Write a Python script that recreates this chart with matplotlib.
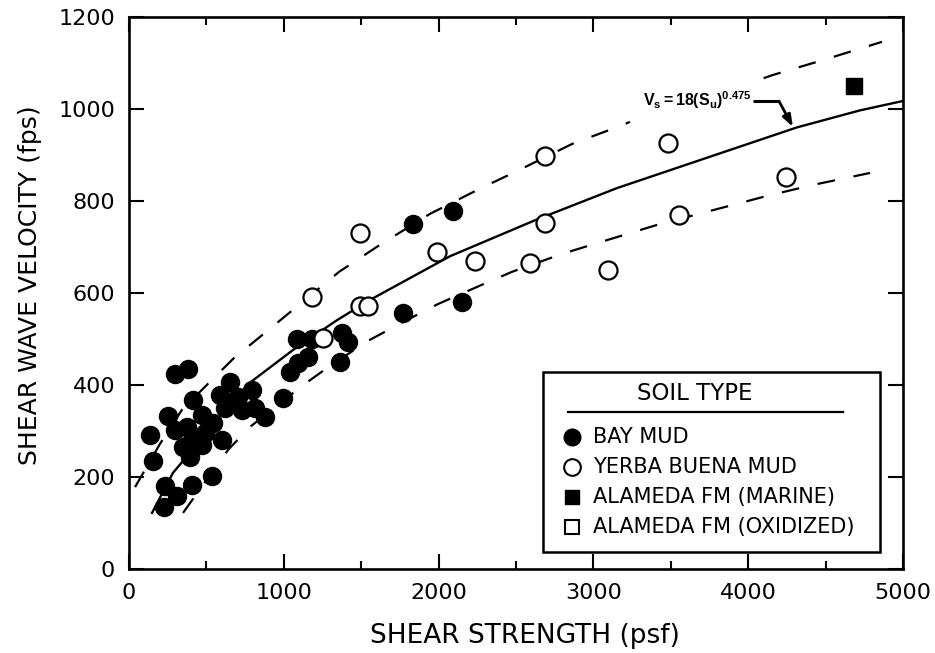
import matplotlib
matplotlib.use("Agg")
import matplotlib.pyplot as plt
from matplotlib.patches import Rectangle
from matplotlib.lines import Line2D

# ---------------- data ----------------
bay_su = [297, 383, 136, 157, 233, 228, 308, 405, 538, 254, 416, 297, 372, 469,
          545, 491, 405, 351, 394, 469, 599, 652, 588, 620, 706, 793, 728, 814,
          879, 997, 1040, 1094, 1156, 1083, 1180, 1376, 1415, 1363, 1770, 2151,
          1835, 2093]
bay_vs = [425, 434, 291, 235, 180, 135, 159, 183, 203, 333, 367, 302, 309, 335,
          317, 295, 280, 266, 244, 270, 280, 407, 378, 349, 375, 389, 346, 349,
          331, 371, 429, 447, 461, 501, 501, 513, 493, 451, 557, 580,
          750, 778]

yb_su = [1182, 1253, 1492, 1492, 1544, 1990, 2235, 2590, 2687, 2687, 3094, 3482,
         3553, 4244]
yb_vs = [591, 502, 730, 572, 572, 689, 670, 665, 752, 898, 650, 926,
         770, 852]

marine_su = [4683]
marine_vs = [1050]

oxid_su = []
oxid_vs = []

# fitted curve Vs = 18(Su)^0.475 as drawn
fit_su = [149, 284, 769, 1059, 1344, 1557, 2074, 2636, 3152, 3689, 4315, 4722, 4994]
fit_vs = [122, 209, 402, 476, 541, 585, 680, 760, 828, 889, 960, 997, 1017]

# upper dashed bound (interrupted where the equation label sits)
up_su_a = [39, 200, 342, 523, 685, 782, 924, 1357, 1609, 1944, 2274, 2506, 2862,
           3172, 3236]
up_vs_a = [178, 272, 346, 407, 461, 487, 526, 646, 702, 772, 828, 865, 924,
           963, 972]
up_su_b = [4100, 4160, 4509, 4864]
up_vs_b = [1067, 1074, 1109, 1146]

# lower dashed bound
lo_su = [349, 640, 782, 1118, 1279, 1544, 1783, 1996, 2274, 2474, 2797, 3088,
         3411, 4121, 4419, 4787]
lo_vs = [122, 259, 309, 398, 437, 496, 539, 576, 617, 646, 685, 715,
         748, 811, 835, 861]

# equation label arrow path
arrow_su = [4031, 4199, 4289]
arrow_vs = [1017, 1017, 961]

x_ticks = [0, 1000, 2000, 3000, 4000, 5000]
y_ticks = [0, 200, 400, 600, 800, 1000, 1200]
legend_labels = ["BAY MUD", "YERBA BUENA MUD", "ALAMEDA FM (MARINE)",
                 "ALAMEDA FM (OXIDIZED)"]

# ---------------- figure ----------------
plt.rcParams['font.family'] = ['DejaVu Sans']
plt.rcParams['mathtext.fontset'] = 'custom'
plt.rcParams['mathtext.rm'] = 'Liberation Sans'
plt.rcParams['mathtext.bf'] = 'Liberation Sans:bold'
plt.rcParams['mathtext.it'] = 'Liberation Sans:italic'

fig = plt.figure(figsize=(9.35, 6.53), dpi=100)
ax = fig.add_axes([129/935, 1 - 569/653, (903-129)/935, (569-17)/653])

ax.set_xlim(0, 5000)
ax.set_ylim(0, 1200)

lw_d = 1.6
for xs, ys in [(up_su_a, up_vs_a), (up_su_b, up_vs_b), (lo_su, lo_vs)]:
    ax.plot(xs, ys, color='black', lw=lw_d, dashes=(8.0, 8.5), zorder=2)
ax.plot(fit_su, fit_vs, color='black', lw=1.7, zorder=2)

ms = 13
ax.plot(bay_su, bay_vs, 'o', ms=ms, mfc='black', mec='black', mew=1.0,
        ls='none', zorder=3)
ax.plot(yb_su, yb_vs, 'o', ms=ms, mfc='white', mec='black', mew=1.6,
        ls='none', zorder=4)
ax.plot(marine_su, marine_vs, 's', ms=11, mfc='black', mec='black', mew=1.0,
        ls='none', zorder=3)
ax.plot(oxid_su, oxid_vs, 's', ms=11, mfc='white', mec='black', mew=1.5,
        ls='none', zorder=3)

# equation label with bent arrow
ax.text(3320, 1020, r'$\mathbf{V_s = 18(S_u)^{0.475}}$', fontsize=11.5,
        ha='left', va='center', zorder=5)
ax.plot(arrow_su[:2], arrow_vs[:2], color='black', lw=2.2, solid_capstyle='butt')
ax.annotate('', xy=(arrow_su[2], arrow_vs[2]), xytext=(arrow_su[1], arrow_vs[1]),
            arrowprops=dict(arrowstyle='-|>,head_length=0.7,head_width=0.25',
                            color='black', lw=2.0, shrinkA=0, shrinkB=0))

# ticks
ax.set_xticks(x_ticks)
ax.set_xticks([500, 1500, 2500, 3500, 4500], minor=True)
ax.set_yticks(y_ticks)
ax.tick_params(which='both', direction='in', top=True, right=True,
               width=1.5, color='black')
ax.tick_params(which='major', length=11, labelsize=16, pad=10)
ax.tick_params(which='minor', length=6)
for s in ax.spines.values():
    s.set_linewidth(1.9)

ax.set_xlabel('SHEAR STRENGTH (psf)', fontsize=19)
ax.xaxis.set_label_coords(0.512, -0.098)
ax.set_ylabel('SHEAR WAVE VELOCITY (fps)', fontsize=18)
ax.yaxis.set_label_coords(-0.112, 0.515)

# legend box drawn in axes coordinates
tr = ax.transAxes
ax.add_patch(Rectangle((0.535, 0.031), 0.435, 0.326, transform=tr,
                       facecolor='white', edgecolor='black', lw=1.8, zorder=6))
ax.text(0.731, 0.318, 'SOIL TYPE', transform=tr, fontsize=16.5, ha='center',
        va='center', zorder=7)
ax.add_line(Line2D([0.567, 0.922], [0.284, 0.284], transform=tr, color='black',
                   lw=1.6, zorder=7))
rows_y = [0.239, 0.185, 0.130, 0.076]
styles = [dict(marker='o', mfc='black', ms=12, mew=1.0),
          dict(marker='o', mfc='white', ms=12, mew=1.5),
          dict(marker='s', mfc='black', ms=9.5, mew=1.0),
          dict(marker='s', mfc='white', ms=9.5, mew=1.5)]
for yy, lab, st in zip(rows_y, legend_labels, styles):
    ax.add_line(Line2D([0.572], [yy], transform=tr, ls='none', mec='black',
                       zorder=7, **st))
    ax.text(0.600, yy, lab, transform=tr, fontsize=15, ha='left',
            va='center', zorder=7)

fig.savefig('out.png', dpi=100)
